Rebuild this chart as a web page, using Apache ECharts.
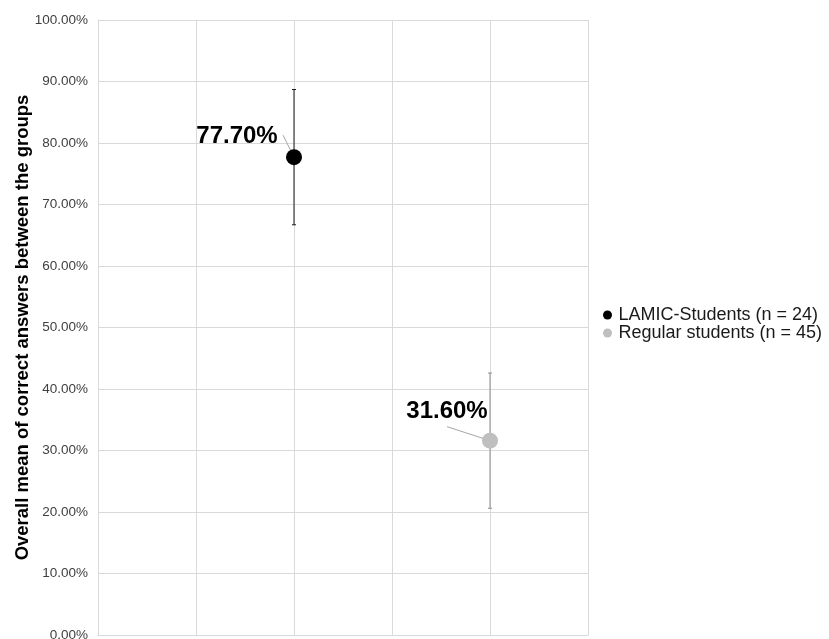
<!DOCTYPE html>
<html>
<head>
<meta charset="utf-8">
<script src="https://cdn.jsdelivr.net/npm/echarts@6/dist/echarts.min.js"></script>
<style>
html,body{margin:0;padding:0;background:#fff;}
#chart{width:829px;height:639px;}
</style>
</head>
<body>
<div id="chart"></div>
<script>
const groups = ['LAMIC-Students (n = 24)', 'Regular students (n = 45)'];
const xPositions = [2, 4];
const means = [77.7, 31.6];
const errLow = [66.7, 20.6];
const errHigh = [88.7, 42.6];
const pointColors = ['#000000', '#bfbfbf'];
const barColors = ['#1a1a1a', '#8c8c8c'];
const labelOffsets = [[-57, -21], [-43, -29]];
const leaderOffsets = [[-11, -22], [-43, -14]];
const yTitle = 'Overall mean of correct answers between the groups';

const FONT = 'Liberation Sans, Arial, sans-serif';

const series = [];
groups.forEach((g, i) => {
  series.push({
    name: g + ' err',
    type: 'custom',
    data: [[xPositions[i], errLow[i], errHigh[i], means[i]]],
    encode: { x: 0, y: [1, 2] },
    z: 1,
    silent: true,
    renderItem: function (params, api) {
      const x = api.value(0);
      const lo = api.coord([x, api.value(1)]);
      const hi = api.coord([x, api.value(2)]);
      const c = api.coord([x, api.value(3)]);
      const cap = 2;
      const style = { stroke: barColors[i], lineWidth: 1 };
      const off = leaderOffsets[i];
      return {
        type: 'group',
        children: [
          { type: 'line', shape: { x1: c[0], y1: c[1], x2: c[0] + off[0], y2: c[1] + off[1] }, style: { stroke: '#a6a6a6', lineWidth: 1 } },
          { type: 'line', shape: { x1: lo[0], y1: lo[1], x2: hi[0], y2: hi[1] }, style: style },
          { type: 'line', shape: { x1: lo[0] - cap, y1: lo[1], x2: lo[0] + cap, y2: lo[1] }, style: style },
          { type: 'line', shape: { x1: hi[0] - cap, y1: hi[1], x2: hi[0] + cap, y2: hi[1] }, style: style }
        ]
      };
    }
  });
  series.push({
    name: g,
    type: 'scatter',
    data: [[xPositions[i], means[i]]],
    symbol: 'circle',
    symbolSize: 16,
    z: 3,
    itemStyle: { color: pointColors[i], opacity: 1 },
    label: {
      show: true,
      position: 'inside',
      formatter: function (p) { return p.value[1].toFixed(2) + '%'; },
      fontFamily: FONT,
      fontSize: 24,
      fontWeight: 'bold',
      color: '#000',
      opacity: 1
    },
    labelLayout: { dx: labelOffsets[i][0], dy: labelOffsets[i][1] }
  });
});

const chart = echarts.init(document.getElementById('chart'), null, { renderer: 'canvas' });
chart.setOption({
  animation: false,
  backgroundColor: '#fff',
  grid: { left: 98, right: 241, top: 20, bottom: 4, containLabel: false, outerBoundsMode: 'none' },
  legend: {
    data: groups,
    orient: 'vertical',
    left: 598,
    top: 301,
    icon: 'circle',
    itemWidth: 12,
    itemHeight: 9,
    itemGap: 0,
    textStyle: { fontFamily: FONT, fontSize: 18, color: '#1a1a1a', lineHeight: 18 }
  },
  xAxis: {
    type: 'value',
    min: 0,
    max: 5,
    interval: 1,
    axisLabel: { show: false },
    axisTick: { show: false },
    axisLine: { show: true, lineStyle: { color: '#d9d9d9' } },
    splitLine: { show: true, lineStyle: { color: '#d9d9d9' } }
  },
  yAxis: {
    type: 'value',
    min: 0,
    max: 100,
    interval: 10,
    name: yTitle,
    nameLocation: 'middle',
    nameGap: 66,
    nameMoveOverlap: false,
    nameTextStyle: { fontFamily: FONT, fontSize: 18.5, fontWeight: 'bold', color: '#000' },
    axisLabel: {
      formatter: function (v) { return v.toFixed(2) + '%'; },
      fontFamily: FONT,
      fontSize: 13.5,
      color: '#404040',
      margin: 10
    },
    axisTick: { show: false },
    axisLine: { show: true, lineStyle: { color: '#d9d9d9' } },
    splitLine: { show: true, lineStyle: { color: '#d9d9d9' } }
  },
  series: series
});
</script>
</body>
</html>
